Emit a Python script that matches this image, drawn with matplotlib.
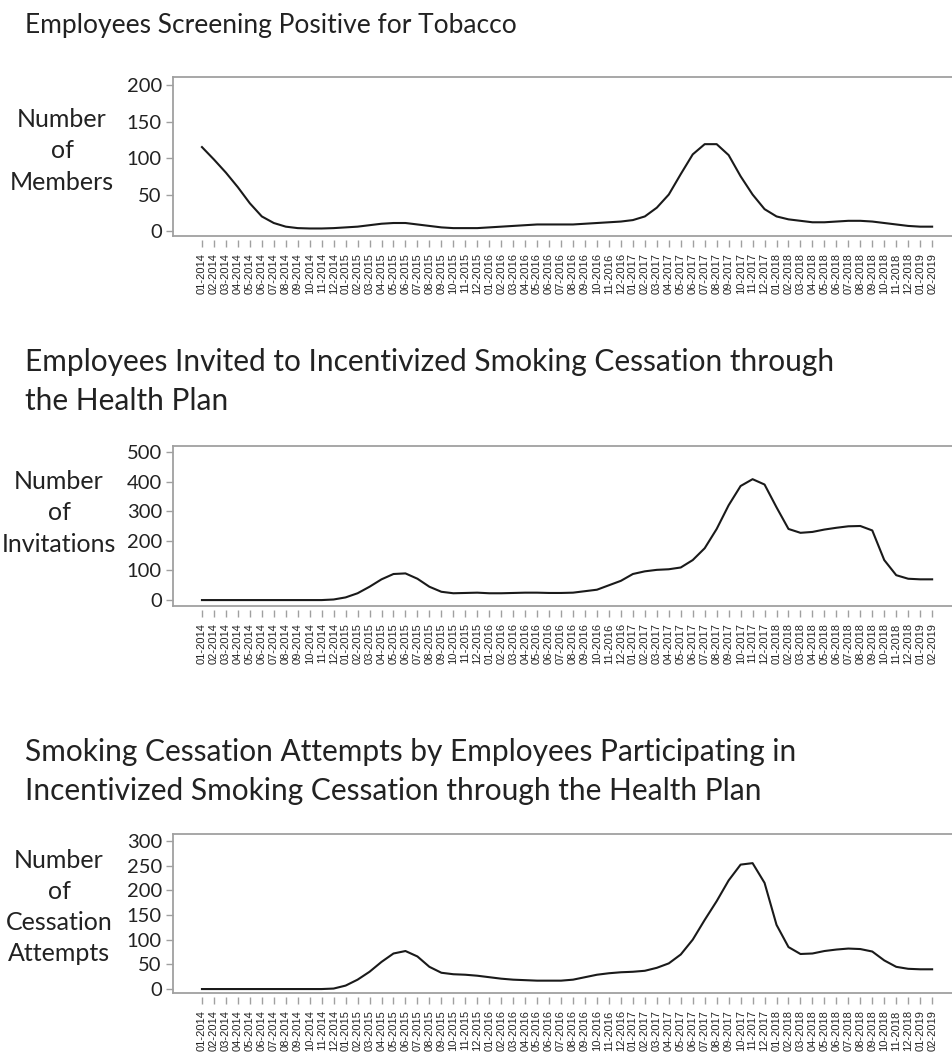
import matplotlib
matplotlib.use("Agg")
import matplotlib.pyplot as plt

# monthly labels 01-2014 .. 02-2019
months = ["%02d-%d" % (i % 12 + 1, 2014 + i // 12) for i in range(62)]

members = [115, 98, 80, 60, 38, 20, 11, 6, 4, 3.5, 3.5, 4, 5, 6, 8, 10, 11, 11, 9, 7,
           5, 4, 4, 4, 5, 6, 7, 8, 9, 9, 9, 9, 10, 11, 12, 13, 15, 20, 32, 50,
           78, 105, 119, 119, 104, 75, 50, 30, 20, 16, 14, 12, 12, 13, 14, 14, 13, 11, 9, 7,
           6, 6]

invitations = [0, 0, 0, 0, 0, 0, 0, 0, 0, 0, 0, 2, 9, 23, 45, 70, 88, 90, 72, 45,
               28, 23, 24, 25, 23, 23, 24, 25, 25, 24, 24, 25, 30, 35, 50, 65, 88, 97, 102, 104,
               110, 135, 175, 240, 320, 385, 408, 390, 313, 240, 227, 230, 238, 244, 249, 250, 235, 135, 84, 72,
               70, 70]

attempts = [0, 0, 0, 0, 0, 0, 0, 0, 0, 0, 0, 1, 7, 19, 35, 55, 72, 77, 66, 45,
            33, 30, 29, 27, 24, 21, 19, 18, 17, 17, 17, 19, 24, 29, 32, 34, 35, 37, 43, 52,
            70, 100, 140, 178, 220, 252, 255, 215, 130, 85, 71, 72, 77, 80, 82, 81, 76, 58, 45, 41,
            40, 40]

titles = ["Employees Screening Positive for Tobacco",
          "Employees Invited to Incentivized Smoking Cessation through\nthe Health Plan",
          "Smoking Cessation Attempts by Employees Participating in\nIncentivized Smoking Cessation through the Health Plan"]
ylabels = ["Number\nof\nMembers", "Number\nof\nInvitations", "Number\nof\nCessation\nAttempts"]
yticks = [[0, 50, 100, 150, 200], [0, 100, 200, 300, 400, 500], [0, 50, 100, 150, 200, 250, 300]]
ylims = [(-6.8, 211), (-20, 520), (-8, 314)]

W, H = 952, 1052
fig = plt.figure(figsize=(W / 100, H / 100), dpi=100)

# pixel layout: (axes top, axes bottom, title last baseline, title size, ylabel center x, ylabel center y)
boxes = [(77, 236, 33, 19, 62, 151), (446, 606, 410, 21.5, 59, 513), (834, 993, 800, 21.5, 59, 907)]
frame = "#a0a0a0"
x = list(range(len(months)))

for k, series in enumerate([members, invitations, attempts]):
    top, bot, tb, tsize, lx, ly = boxes[k]
    ax = fig.add_axes([173 / W, 1 - bot / H, (W - 173) / W, (bot - top) / H])
    # ticks sit a little below the frame line
    ax.spines["bottom"].set_position(("outward", 3))
    ax.spines["bottom"].set_visible(False)
    ax.spines["right"].set_visible(False)
    for s in ["left", "top"]:
        ax.spines[s].set_color(frame)
        ax.spines[s].set_linewidth(1.3)

    ax.plot(x, series, color="#1a1a1a", lw=1.5, solid_joinstyle="round")
    ax.set_xlim(-2.42, 62.66)
    ax.set_ylim(*ylims[k])
    ax.axhline(ylims[k][0], color=frame, lw=1.3, clip_on=False)

    ax.set_yticks(yticks[k])
    ax.set_yticklabels([str(v) for v in yticks[k]], fontsize=14.5, family="Lato", color="#222222")
    ax.set_xticks(x)
    ax.set_xticklabels(months, rotation=90, fontsize=8.0, family="Liberation Sans", color="#222222")
    ax.tick_params(axis="y", direction="out", length=5, width=1, color=frame, pad=3)
    ax.tick_params(axis="x", direction="out", length=5, width=1, color=frame, pad=4.5)

    fig.text(lx / W, 1 - ly / H, ylabels[k], ha="center", va="center", multialignment="center",
             fontsize=18, family="Lato", color="#222222", linespacing=1.43)
    fig.text(25 / W, 1 - tb / H, titles[k], ha="left", va="baseline", fontsize=tsize,
             family="Lato", color="#222222", linespacing=1.5)

fig.savefig("out.png", dpi=100)
